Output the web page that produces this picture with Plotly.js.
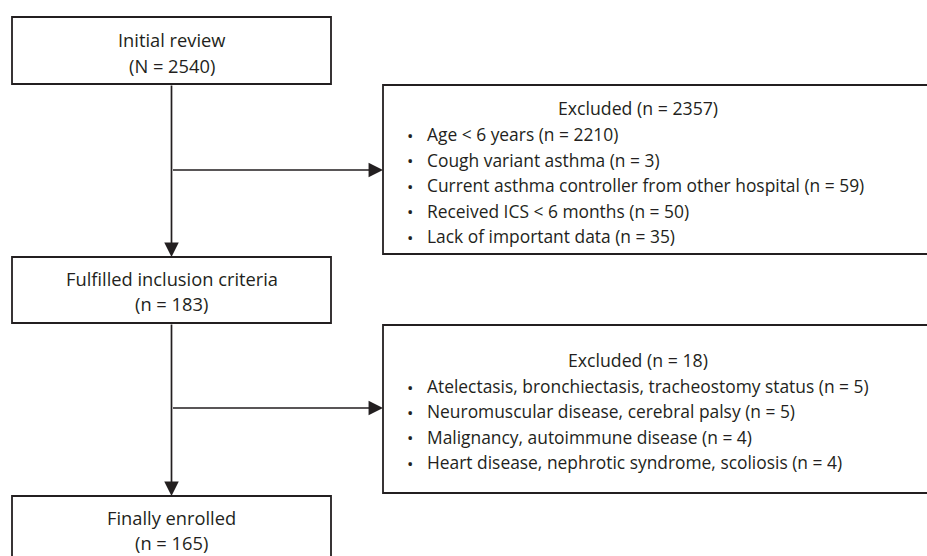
<!DOCTYPE html>
<html>
<head>
<meta charset="utf-8">
<script src="https://cdn.plot.ly/plotly-3.0.1.min.js"></script>
<style>html,body{margin:0;padding:0;background:#fff;}#chart{width:927px;height:556px;}</style>
</head>
<body>
<div id="chart"></div>
<script>
// ---- data ----
const stageNames = ["Initial review", "Fulfilled inclusion criteria", "Finally enrolled"];
const stageSymbols = ["N", "n", "n"];
const stageCounts = [2540, 183, 165];
const excludedTotals = [2357, 18];
const excl1Reasons = ["Age < 6 years", "Cough variant asthma", "Current asthma controller from other hospital", "Received ICS < 6 months", "Lack of important data"];
const excl1Counts = [2210, 3, 59, 50, 35];
const excl2Reasons = ["Atelectasis, bronchiectasis, tracheostomy status", "Neuromuscular disease, cerebral palsy", "Malignancy, autoimmune disease", "Heart disease, nephrotic syndrome, scoliosis"];
const excl2Counts = [5, 5, 4, 4];

// ---- layout geometry (pixels, y downward) ----
const geo = {
  stageBox: [{x0:12,x1:331,y0:17,y1:84,t1:39,t2:65},
             {x0:12,x1:331,y0:257,y1:323,t1:278,t2:303},
             {x0:12,x1:331,y0:496,y1:570,t1:517,t2:542}],
  exclBox: [{x0:383,x1:940,y0:85,y1:254,head:108,first:134,step:25.5,branchY:170},
            {x0:383,x1:940,y0:325,y1:493,head:360,first:386,step:25.4,branchY:408}],
  spineX: 171.5, headCx: 638, bulletX: 410, textX: 425
};
const ink = "#231f20";
const fontFam = "'Open Sans', 'Noto Sans', sans-serif";
const sizes = {stage: 18.3, head: 17.7, item: 17.4, bullet: 17};

const shapes = [];
const ann = [];
function txt(x, y, s, anchor, size) {
  ann.push({x:x, y:y, xref:'x', yref:'y', text:s, showarrow:false, xanchor:anchor||'center', yanchor:'middle',
            font:{family:fontFam, size:size, color:ink}});
}
function arrow(x, y, ax, ay) {
  ann.push({x:x, y:y, ax:ax, ay:ay, xref:'x', yref:'y', axref:'x', ayref:'y', text:'', showarrow:true,
            arrowhead:2, arrowsize:1.7, arrowwidth:1.7, arrowcolor:ink, standoff:0, startstandoff:0});
}
function rect(b) {
  shapes.push({type:'rect', xref:'x', yref:'y', x0:b.x0, x1:b.x1, y0:b.y0, y1:b.y1,
               line:{color:ink, width:1.8}, fillcolor:'rgba(0,0,0,0)'});
}

stageNames.forEach((nm, i) => {
  const b = geo.stageBox[i];
  rect(b);
  txt((b.x0+b.x1)/2, b.t1, nm, 'center', sizes.stage);
  txt((b.x0+b.x1)/2, b.t2, "(" + stageSymbols[i] + " = " + stageCounts[i] + ")", 'center', sizes.stage);
});

const reasonSets = [[excl1Reasons, excl1Counts], [excl2Reasons, excl2Counts]];
excludedTotals.forEach((tot, i) => {
  const b = geo.exclBox[i];
  rect(b);
  txt(geo.headCx, b.head, "Excluded (n = " + tot + ")", 'center', sizes.head);
  const [rs, cs] = reasonSets[i];
  rs.forEach((r, j) => {
    const y = b.first + j*b.step;
    txt(geo.bulletX, y + 1, "•", 'center', sizes.bullet);
    txt(geo.textX, y, r + " (n = " + cs[j] + ")", 'left', sizes.item);
  });
});

// vertical arrows between stages
for (let i = 0; i < 2; i++) {
  arrow(geo.spineX, geo.stageBox[i+1].y0, geo.spineX, geo.stageBox[i].y1);
  arrow(geo.exclBox[i].x0, geo.exclBox[i].branchY, geo.spineX, geo.exclBox[i].branchY);
}

const layout = {
  width:927, height:556, margin:{l:0,r:0,t:0,b:0},
  paper_bgcolor:'#fff', plot_bgcolor:'#fff', showlegend:false,
  xaxis:{range:[0,927], visible:false, fixedrange:true},
  yaxis:{range:[556,0], visible:false, fixedrange:true},
  shapes:shapes, annotations:ann
};
Plotly.newPlot('chart', [{x:[], y:[], type:'scatter', mode:'markers'}], layout, {staticPlot:true, displayModeBar:false});
</script>
</body>
</html>
